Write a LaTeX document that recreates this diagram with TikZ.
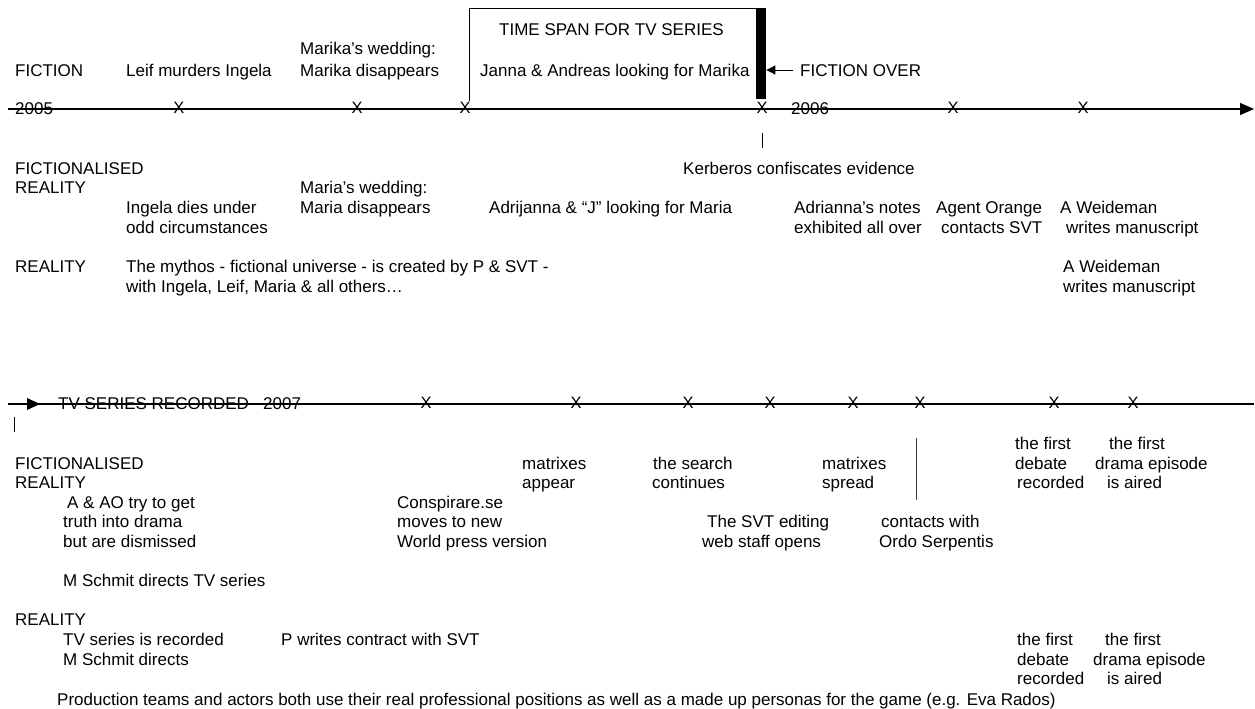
\documentclass[tikz,border=0pt]{standalone}
\usepackage{fontspec}
\setmainfont{Liberation Sans}
\usetikzlibrary{arrows.meta}
\begin{document}
\begin{tikzpicture}[x=1pt,y=-1pt,
  lbl/.style={anchor=west, inner sep=0pt, text height=12pt, text depth=0pt, font=\fontsize{17}{20}\selectfont},
  xm/.style={inner sep=0pt, font=\fontsize{16.5}{18}\selectfont},
  axis/.style={line width=1.3pt},
  thin/.style={line width=0.9pt}]
\useasboundingbox (0,0) rectangle (1255,709);
% ---------- top timeline ----------
\coordinate (a1s) at (8,109);
\coordinate (a1e) at (1254,109);
\draw[axis,-{Triangle[length=14pt,width=12pt]}] (a1s) -- (a1e);
\node[lbl] (y2005) at (15,108) {2005};
\node[lbl] (y2006) at (791,108) {2006};
\foreach \i/\x in {1/179,2/357,3/465,4/762,5/953,6/1083}
  \node[xm] (tx\i) at (\x,108) {X};
% box
\coordinate (bxa) at (469,101);
\coordinate (bxb) at (469,8);
\coordinate (bxc) at (757,8);
\draw[thin] (bxa) -- (bxb) -- (bxc);
\node[fill=black, inner sep=0pt, minimum width=10pt, minimum height=91pt, anchor=north west] (bar) at (756,8) {};
\node[lbl] (ts) at (499,30) {TIME SPAN FOR TV SERIES};
\node[lbl] (ja) at (480,70) {Janna \& Andreas looking for Marika};
\node[lbl] (over) at (800,70) {FICTION OVER};
\coordinate (ovs) at (793,70);
\draw[thin,-{Triangle[length=9pt,width=9pt]}] (ovs) -- (bar.east |- ovs);
\node[lbl] (fic) at (15,70) {FICTION};
\node[lbl] (leif) at (126,70) {Leif murders Ingela};
\node[lbl] (mw1) at (300,49) {Marika’s wedding:};
\node[lbl] (mw2) at (300,70) {Marika disappears};
% tick
\coordinate (tk1) at (762,133);
\coordinate (tk2) at (762,148);
\draw[thin] (tk1) -- (tk2);
% fictionalised reality
\node[lbl] (fr1) at (15,168) {FICTIONALISED};
\node[lbl] (fr2) at (15,187) {REALITY};
\node[lbl] (kerb) at (683,168) {Kerberos confiscates evidence};
\node[lbl] (mrw1) at (300,187) {Maria’s wedding:};
\node[lbl] (mrw2) at (300,207) {Maria disappears};
\node[lbl] (ing1) at (126,207) {Ingela dies under};
\node[lbl] (ing2) at (126,227) {odd circumstances};
\node[lbl] (adr) at (489,207) {Adrijanna \& “J” looking for Maria};
\node[lbl] (an1) at (794,207) {Adrianna’s notes};
\node[lbl] (an2) at (794,227) {exhibited all over};
\node[lbl] (ao1) at (936,207) {Agent Orange};
\node[lbl] (ao2) at (941,227) {contacts SVT};
\node[lbl] (aw1) at (1060,207) {A Weideman};
\node[lbl] (aw2) at (1066,227) {writes manuscript};
% reality
\node[lbl] (re) at (15,266) {REALITY};
\node[lbl] (my1) at (126,266) {The mythos - fictional universe - is created by P \& SVT -};
\node[lbl] (my2) at (126,286) {with Ingela, Leif, Maria \& all others…};
\node[lbl] (aw3) at (1063,266) {A Weideman};
\node[lbl] (aw4) at (1063,286) {writes manuscript};
% ---------- bottom timeline ----------
\coordinate (a2s) at (8,404);
\coordinate (a2e) at (1254,404);
\draw[axis] (a2s) -- (a2e);
\fill (27,398) -- (40,404) -- (27,410) -- cycle;
\node[lbl] (tvr) at (58,403) {TV SERIES RECORDED};
\node[lbl] (y2007) at (263,403) {2007};
\foreach \i/\x in {1/426,2/576,3/688,4/770,5/853,6/920,7/1054,8/1133}
  \node[xm] (bx\i) at (\x,403) {X};
\coordinate (tk3) at (14,417);
\coordinate (tk4) at (14,432);
\draw[thin] (tk3) -- (tk4);
\node[lbl] (fr3) at (15,463) {FICTIONALISED};
\node[lbl] (fr4) at (15,482) {REALITY};
\node[lbl] (aao1) at (67,502) {A \& AO try to get};
\node[lbl] (aao2) at (63,521) {truth into drama};
\node[lbl] (aao3) at (63,541) {but are dismissed};
\node[lbl] (ms) at (63,580) {M Schmit directs TV series};
\node[lbl] (con1) at (397,502) {Conspirare.se};
\node[lbl] (con2) at (397,521) {moves to new};
\node[lbl] (con3) at (397,541) {World press version};
\node[lbl] (ma1) at (522,463) {matrixes};
\node[lbl] (ma2) at (522,482) {appear};
\node[lbl] (se1) at (653,463) {the search};
\node[lbl] (se2) at (652,482) {continues};
\node[lbl] (svt1) at (707,521) {The SVT editing};
\node[lbl] (svt2) at (702,541) {web staff opens};
\node[lbl] (sp1) at (822,463) {matrixes};
\node[lbl] (sp2) at (822,482) {spread};
\coordinate (vl1) at (916,438);
\coordinate (vl2) at (916,500);
\draw[thin, draw=black!75] (vl1) -- (vl2);
\node[lbl] (os1) at (881,521) {contacts with};
\node[lbl] (os2) at (879,541) {Ordo Serpentis};
\node[lbl] (d1) at (1015,443) {the first};
\node[lbl] (d2) at (1015,463) {debate};
\node[lbl] (d3) at (1017,482) {recorded};
\node[lbl] (e1) at (1109,443) {the first};
\node[lbl] (e2) at (1095,463) {drama episode};
\node[lbl] (e3) at (1107,482) {is aired};
\node[lbl] (re2) at (15,619) {REALITY};
\node[lbl] (tv1) at (63,639) {TV series is recorded};
\node[lbl] (tv2) at (63,659) {M Schmit directs};
\node[lbl] (pw) at (281,639) {P writes contract with SVT};
\node[lbl] (d4) at (1017,639) {the first};
\node[lbl] (d5) at (1017,659) {debate};
\node[lbl] (d6) at (1017,678) {recorded};
\node[lbl] (e4) at (1105,639) {the first};
\node[lbl] (e5) at (1093,659) {drama episode};
\node[lbl] (e6) at (1107,678) {is aired};
\node[lbl] (prod) at (57,699) {Production teams and actors both use their real professional positions as well as a made up personas for the game (e.g. Eva Rados)};
\end{tikzpicture}
\end{document}
